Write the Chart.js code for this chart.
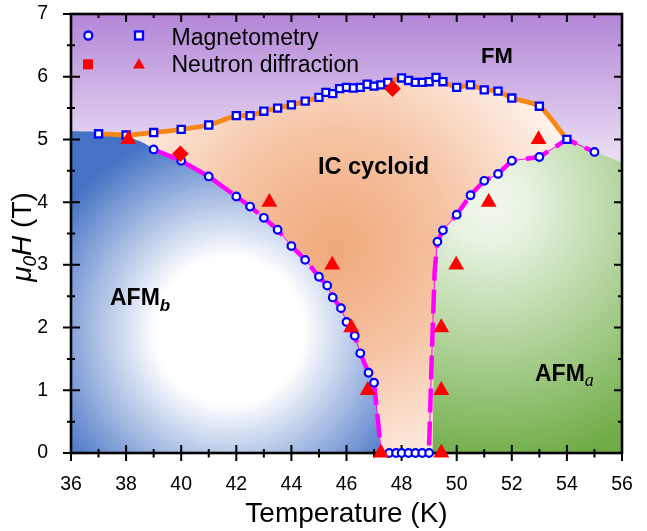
<!DOCTYPE html>
<html><head><meta charset="utf-8">
<script src="https://cdn.jsdelivr.net/npm/chart.js@4.4.1/dist/chart.umd.min.js"></script>
<style>
html,body{margin:0;padding:0;background:#fff;}
#wrap{position:relative;width:647px;height:531px;font-family:'Liberation Sans',Arial,sans-serif;overflow:hidden;}
#c{position:absolute;left:0;top:0;}
.t{position:absolute;white-space:nowrap;line-height:1;color:#000;}
.b{font-weight:bold;}
#ov{position:absolute;left:0;top:0;}
</style></head><body>
<div id="wrap">
<canvas id="c" width="647" height="531" style="width:647px;height:531px"></canvas>
<svg id="ov" width="647" height="531">
  <circle cx="88.3" cy="35.5" r="4" fill="#fff" stroke="#0000ff" stroke-width="2.3"/>
  <rect x="135" y="31.5" width="8" height="8" fill="#fff" stroke="#0000ff" stroke-width="2.3"/>
  <rect x="83" y="59.3" width="10" height="10" fill="#ff0000"/>
  <polygon points="133,68.5 145,68.5 139,58.3" fill="#ff0000"/>
</svg>
<div class="t" style="left:171.5px;top:25.5px;font-size:23px;">Magnetometry</div>
<div class="t" style="left:171.5px;top:52.5px;font-size:23px;">Neutron diffraction</div>
<div class="t b" style="left:481px;top:44.9px;font-size:22px;">FM</div>
<div class="t b" style="left:318px;top:155.2px;font-size:23.5px;">IC cycloid</div>
<div class="t b" style="left:110px;top:285.5px;font-size:23px;">AFM<span style="font-size:17px;font-style:italic;position:relative;top:6px;">b</span></div>
<div class="t b" style="left:535px;top:362.2px;font-size:23px;">AFM<span style="font-family:'Liberation Serif',serif;font-weight:normal;font-size:18px;font-style:italic;position:relative;top:5px;">a</span></div>
<div class="t" style="left:23px;top:237px;font-size:28px;transform:translate(-50%,-50%) rotate(-90deg);"><i>μ<sub style="font-size:19px;vertical-align:-5px;">0</sub>H</i> (T)</div>
</div>
<script>
// ---------- data ----------
const xTickVals = [36,38,40,42,44,46,48,50,52,54,56];
const yTickVals = [0,1,2,3,4,5,6,7];

// Magnetometry: squares (upper FM boundary)
const sqT = [37,38,39,40,41,42,42.5,43,43.5,44,44.5,45,45.25,45.5,45.75,46,46.25,46.5,46.75,47,47.25,47.5,48,48.25,48.5,48.75,49,49.25,49.5,50,50.5,51,51.5,52,53,54];
const sqH = [5.09,5.07,5.11,5.16,5.23,5.38,5.38,5.45,5.50,5.55,5.61,5.67,5.75,5.73,5.81,5.83,5.82,5.83,5.88,5.85,5.87,5.91,5.98,5.94,5.91,5.91,5.92,5.99,5.92,5.83,5.87,5.79,5.77,5.66,5.53,5.00];

// Magnetometry: circles
const circT = [39,40,41,42,42.5,43,43.5,44,44.5,45,45.3,45.5,45.8,46,46.3,46.5,46.8,47,47.55,47.8,48,48.25,48.5,48.75,49,49.3,49.5,50,50.5,51,51.5,52,53,55];
const circH = [4.84,4.66,4.41,4.09,3.93,3.75,3.56,3.30,3.08,2.81,2.67,2.48,2.31,2.09,1.87,1.59,1.28,1.12,0,0,0,0,0,0,0,3.37,3.55,3.80,4.11,4.34,4.45,4.66,4.72,4.80];

// Neutron diffraction: triangles and diamonds
const triT = [38.08,43.2,45.48,46.17,46.77,47.25,49.44,49.44,49.44,49.98,51.16,52.97];
const triH = [5,4,3,2,1,0,0,1,2,3,4,5];
const diaT = [39.97,47.67];
const diaH = [4.77,5.81];

// Phase boundaries (dashed magenta guides)
const magLT = [39,40,41,42,42.5,43,43.5,44,44.5,45,45.3,45.5,45.8,46,46.3,46.5,46.8,47,47.25];
const magLH = [4.84,4.66,4.41,4.09,3.93,3.75,3.56,3.30,3.08,2.81,2.67,2.48,2.31,2.09,1.87,1.59,1.28,1.12,0.06];
const magRT = [49.0,49.1,49.2,49.3,49.5,50,50.5,51,51.5,52,53,54,55];
const magRH = [0.12,1.6,2.9,3.37,3.55,3.80,4.11,4.34,4.45,4.66,4.72,5.00,4.80];

// Phase regions
const fmT = [36,56];
const fmH = [7,7];
const afmbT = [36,37,38,38.5,39,40,41,42,42.5,43,43.5,44,44.5,45,45.3,45.5,45.8,46,46.3,46.5,46.8,47,47.25];
const afmbH = [5.13,5.12,5.05,4.97,4.86,4.67,4.42,4.10,3.94,3.76,3.57,3.31,3.09,2.82,2.68,2.49,2.32,2.10,1.88,1.60,1.29,1.12,0];
const afmaT = [49.12,49.2,49.25,49.3,49.5,50,50.5,51,51.5,52,53,54,55,56];
const afmaH = [0,2.0,3.0,3.37,3.55,3.80,4.11,4.34,4.45,4.66,4.72,5.00,4.81,4.63];

const pts = (T,H) => T.map((t,i)=>({x:t,y:H[i]}));

// ---------- gradients ----------
function radial(ctx, cx, cy, r, stops, fallback){
  const ch = ctx.chart; const sx = ch.scales.x, sy = ch.scales.y;
  if (!ch.chartArea || !sx || !sy) return fallback;
  const px = sx.getPixelForValue(cx), py = sy.getPixelForValue(cy);
  const g = ch.ctx.createRadialGradient(px,py,0,px,py,r);
  stops.forEach(s=>g.addColorStop(s[0],s[1]));
  return g;
}
function fmGrad(ctx){
  const ch = ctx.chart; const sy = ch.scales.y;
  if (!ch.chartArea || !sy) return '#d8c4ec';
  const g = ch.ctx.createLinearGradient(0, sy.getPixelForValue(7), 0, sy.getPixelForValue(4.0));
  g.addColorStop(0,'rgb(178,133,214)');
  g.addColorStop(1,'rgb(252,250,254)');
  return g;
}
const icGrad = ctx => radial(ctx, 45.6, 3.3, 255, [[0,'rgb(240,168,122)'],[0.45,'rgb(246,196,164)'],[1,'rgb(254,245,239)']], '#f6c6a4');
const afmbGrad = ctx => radial(ctx, 41.75, 1.95, 205, [[0,'#ffffff'],[0.36,'#ffffff'],[1,'rgb(68,114,196)']], '#8aa8dc');
const afmaGrad = ctx => radial(ctx, 51.21, 3.96, 260, [[0,'rgb(240,247,236)'],[0.15,'rgb(232,243,226)'],[1,'rgb(112,173,71)']], '#a8cf90');

// ---------- frame & ticks ----------
const framePlugin = {
  id:'frame',
  beforeDatasetsDraw(chart){
    const {ctx, chartArea:a, scales:{x,y}} = chart;
    ctx.save();
    ctx.strokeStyle = '#000';
    ctx.lineWidth = 2;
    ctx.beginPath();
    for (let v = 36; v <= 56; v++){
      const p = x.getPixelForValue(v); const maj = v % 2 === 0;
      ctx.moveTo(p, a.bottom - (maj?8:4)); ctx.lineTo(p, a.bottom + (maj?8:4.5));
      ctx.moveTo(p, a.top); ctx.lineTo(p, a.top + (maj?8:4));
    }
    for (let v = 0; v <= 7; v += 0.5){
      const p = y.getPixelForValue(v); const maj = Number.isInteger(v);
      ctx.moveTo(a.left - (maj?8:4), p); ctx.lineTo(a.left + (maj?9:4), p);
      ctx.moveTo(a.right, p); ctx.lineTo(a.right - (maj?8:4), p);
    }
    ctx.stroke();
    ctx.lineWidth = 2.6;
    ctx.strokeRect(a.left, a.top, a.right - a.left, a.bottom - a.top);
    ctx.restore();
  }
};

const fillDs = (label, T, H, bg, order) => ({label, data: pts(T,H), fill:'origin', backgroundColor: bg, borderWidth:0, pointRadius:0, order, tension:0.15});

new Chart(document.getElementById('c'), {
  type:'line',
  data:{ datasets:[
    {label:'Neutron diffraction (diamond)', data:pts(diaT,diaH), showLine:false, pointStyle:'rectRot', pointRadius:8.3, backgroundColor:'#ff0000', borderColor:'#ff0000', borderWidth:0, order:1, clip:false},
    {label:'Neutron diffraction', data:pts(triT,triH), showLine:false, pointStyle:'triangle', pointRadius:9.2, backgroundColor:'#ff0000', borderColor:'#ff0000', borderWidth:0, order:2, clip:false},
    {label:'Magnetometry (square)', data:pts(sqT,sqH), showLine:false, pointStyle:'rect', pointRadius:5, backgroundColor:'#ffffff', borderColor:'#0000ff', borderWidth:2.3, order:3, clip:false},
    {label:'Magnetometry (circle)', data:pts(circT,circH), showLine:false, pointStyle:'circle', pointRadius:3.8, backgroundColor:'#ffffff', borderColor:'#0000ff', borderWidth:2.2, order:3, clip:false},
    {label:'boundary L', data:pts(magLT,magLH), borderColor:'#ff00ff', borderWidth:4.5, borderDash:[24,9], pointRadius:0, fill:false, order:4},
    {label:'boundary L thin', data:pts(magLT,magLH), borderColor:'#ff00ff', borderWidth:1, pointRadius:0, fill:false, order:5},
    {label:'boundary R', data:pts(magRT,magRH), borderColor:'#ff00ff', borderWidth:4.5, borderDash:[24,9], pointRadius:0, fill:false, order:4},
    {label:'boundary R thin', data:pts(magRT,magRH), borderColor:'#ff00ff', borderWidth:1, pointRadius:0, fill:false, order:5},
    {label:'FM boundary', data:pts(sqT,sqH), borderColor:'rgb(250,135,20)', borderWidth:4.8, pointRadius:0, fill:false, tension:0.25, order:6},
    fillDs('AFMb', afmbT, afmbH, afmbGrad, 8),
    fillDs('AFMa', afmaT, afmaH, afmaGrad, 8),
    fillDs('IC cycloid', sqT, sqH, icGrad, 9),
    fillDs('FM', fmT, fmH, fmGrad, 10)
  ]},
  options:{
    responsive:false, animation:false, devicePixelRatio:1,
    layout:{padding:{left:0,right:25,top:14,bottom:0}},
    plugins:{ legend:{display:false}, tooltip:{enabled:false}, filler:{drawTime:'beforeDatasetsDraw'} },
    scales:{
      x:{ type:'linear', min:36, max:56,
          afterBuildTicks: s => { s.ticks = xTickVals.map(v=>({value:v})); },
          afterFit: s => { s.height = 78; s.paddingLeft = 0; s.paddingRight = 0; },
          grid:{display:false}, border:{display:false},
          ticks:{ color:'#000', padding:12, font:{family:"'Liberation Sans', Arial, sans-serif", size:19.5} },
          title:{ display:true, text:'Temperature (K)', color:'#000', padding:{top:0,bottom:0}, font:{family:"'Liberation Sans', Arial, sans-serif", size:28} } },
      y:{ type:'linear', min:0, max:7,
          afterBuildTicks: s => { s.ticks = yTickVals.map(v=>({value:v})); },
          afterFit: s => { s.width = 71; s.paddingTop = 0; s.paddingBottom = 0; },
          grid:{display:false}, border:{display:false},
          ticks:{ color:'#000', padding:15, font:{family:"'Liberation Sans', Arial, sans-serif", size:19.5} } }
    }
  },
  plugins:[framePlugin]
});
</script>
</body></html>
